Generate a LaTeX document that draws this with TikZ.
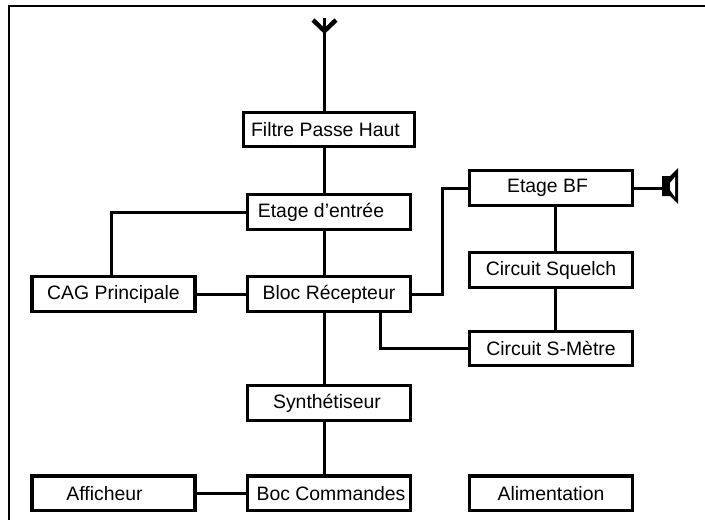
\documentclass[tikz,border=0pt]{standalone}
\usepackage{fontspec}
\setmainfont{Liberation Sans}
\usepackage{tikz}
\usetikzlibrary{positioning}
\tikzset{
    bloc/.style={rectangle, draw, line width=3.3pt, minimum width=163pt, minimum height=34.5pt, inner sep=0pt, font=\fontsize{19.4}{21}\selectfont},
    fil/.style={line width=3pt}
}

\begin{document}
\begin{tikzpicture}[x=1pt,y=-1pt]
            \useasboundingbox (0,0) rectangle (705,520);
            \fill[white] (0,0) rectangle (705,520);
            \coordinate (coinh) at (9,6);
            \coordinate (coinb) at (9,520);
            \coordinate (coind) at (705,6);
            \draw[line width=2pt] (coinb) -- (coinh) -- (coind);
            \node[bloc, minimum width=170.5pt] (filtre) at (329,129.5) {\hspace*{-7pt}Filtre Passe Haut};
            \node[bloc] (etage) at (329,212) {\hspace*{-16pt}Etage d'entrée};
            \node[bloc] (recepteur) at (329,294) {Bloc Récepteur};
            \node[bloc] (synth) at (329,403) {\hspace*{-4pt}Synthétiseur};
            \node[bloc] (commandes) at (329,493.3) {\hspace*{4pt}Boc Commandes};
            \node[bloc] (cag) at (113.5,294) {CAG Principale};
            \node[bloc] (afficheur) at (113.5,493.3) {\hspace*{-18pt}Afficheur};
            \node[bloc] (bf) at (551,188) {\hspace*{-7pt}Etage BF};
            \node[bloc] (squelch) at (551,270) {Circuit Squelch};
            \node[bloc] (smetre) at (551,348.5) {Circuit S-Mètre};
            \node[bloc] (alim) at (551,493.3) {Alimentation};
            \coordinate (antenne) at (324.5,31);
            \coordinate (brasg) at (313,20);
            \coordinate (brasd) at (336,20);
            \coordinate (haut) at (324.5,18);
            \coordinate (coude) at (442,240);
            \coordinate (hp) at (664,188);
            \draw[fil] (haut) -- ([xshift=-4.5pt]filtre.north);
            \draw[line width=4.5pt] (brasg) -- (antenne) -- (brasd);
            \draw[fil] ([xshift=-4.5pt]filtre.south) -- ([xshift=-4.5pt]etage.north);
            \draw[fil] ([xshift=-4.5pt]etage.south) -- ([xshift=-4.5pt]recepteur.north);
            \draw[fil] ([xshift=-4.5pt]recepteur.south) -- ([xshift=-4.5pt]synth.north);
            \draw[fil] ([xshift=-4.5pt]synth.south) -- ([xshift=-4.5pt]commandes.north);
            \draw[fil] ([xshift=-2.5pt]cag.north) |- (etage.west);
            \draw[fil] (cag) -- (recepteur);
            \draw[fil] (recepteur.east) -| (coude) |- (bf.west);
            \draw[fil] ([xshift=51pt]recepteur.south) |- (smetre.west);
            \draw[fil] ([xshift=4pt]bf.south) -- ([xshift=4pt]squelch.north);
            \draw[fil] ([xshift=4pt]squelch.south) -- ([xshift=4pt]smetre.north);
            \draw[fil] (afficheur) -- (commandes);
            \draw[fil] (bf.east) -- (hp);
            \fill (662,176) -- (670,176) -- (678,168) -- (678,204) -- (670,196) -- (662,196) -- cycle;
            \fill[white] (670,183) -- (675,177) -- (675,197) -- (670,190) -- cycle;
        \end{tikzpicture}
\end{document}
